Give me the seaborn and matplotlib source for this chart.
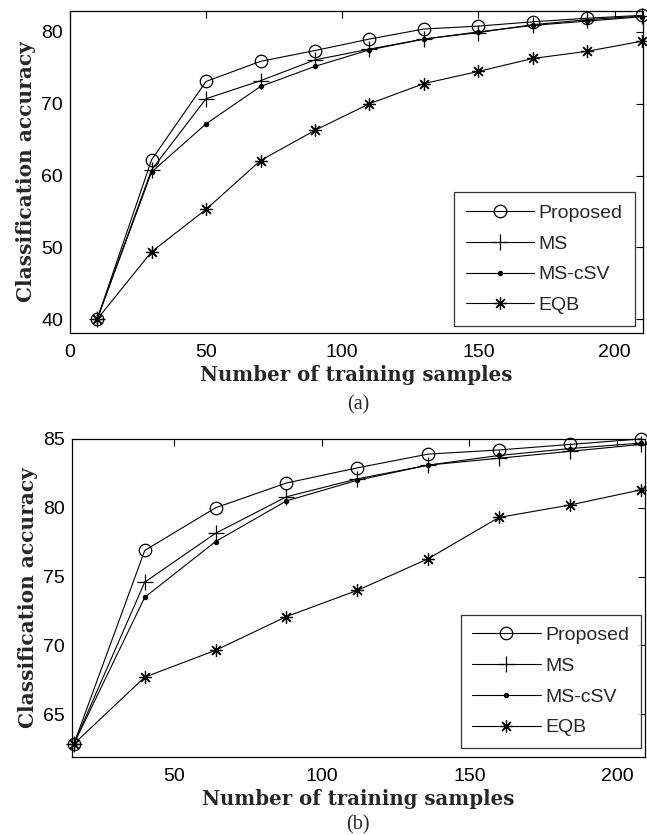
import matplotlib
matplotlib.use("Agg")
import matplotlib.pyplot as plt
import seaborn as sns
import pandas as pd

# ---- data (a) ----
x_a = [10, 30, 50, 70, 90, 110, 130, 150, 170, 190, 210]
proposed_a = [40.0, 62.2, 73.1, 75.9, 77.4, 79.0, 80.4, 80.8, 81.4, 81.9, 82.3]
ms_a = [40.0, 60.8, 70.7, 73.2, 76.1, 77.6, 79.0, 79.9, 81.0, 81.7, 82.2]
mscsv_a = [40.0, 60.5, 67.2, 72.4, 75.2, 77.5, 79.0, 80.0, 80.9, 81.5, 82.1]
eqb_a = [40.0, 49.4, 55.3, 62.1, 66.3, 70.0, 72.8, 74.5, 76.3, 77.3, 78.7]

# ---- data (b) ----
x_b = [16, 40, 64, 88, 112, 136, 160, 184, 208]
proposed_b = [62.85, 76.9, 80.0, 81.8, 82.9, 83.9, 84.2, 84.6, 85.0]
ms_b = [62.85, 74.6, 78.15, 80.8, 82.1, 83.1, 83.6, 84.1, 84.6]
mscsv_b = [62.85, 73.5, 77.55, 80.5, 82.0, 83.1, 83.8, 84.3, 84.7]
eqb_b = [62.85, 67.7, 69.65, 72.1, 74.0, 76.3, 79.3, 80.2, 81.3]

methods = ["Proposed", "MS", "MS-cSV", "EQB"]
xticks_a = [0, 50, 100, 150, 200]
yticks_a = [40, 50, 60, 70, 80]
xticks_b = [50, 100, 150, 200]
yticks_b = [65, 70, 75, 80, 85]

sns.set_theme(style="white")
plt.rcParams["font.family"] = ["Liberation Sans", "DejaVu Sans"]

def make_df(x, series):
    rows = []
    for m, vals in zip(methods, series):
        for xi, yi in zip(x, vals):
            rows.append({"x": xi, "acc": yi, "method": m})
    return pd.DataFrame(rows)

markers = {"Proposed": "o", "MS": "+", "MS-cSV": ".", "EQB": (8, 2, 0)}
msizes = {"Proposed": 9, "MS": 11, "MS-cSV": 6, "EQB": 9}

fig = plt.figure(figsize=(6.47, 8.35), dpi=100)
ax_a = fig.add_axes([0.108, 0.6012, 0.886, 0.3856])
ax_b = fig.add_axes([0.111, 0.0934, 0.886, 0.3809])

def draw(ax, df, xlim, ylim, xt, yt, legend_bbox):
    for m in methods:
        sub = df[df["method"] == m]
        sns.lineplot(data=sub, x="x", y="acc", ax=ax, color="black", lw=0.8,
                     marker=markers[m], markersize=msizes[m],
                     markerfacecolor="none" if m == "Proposed" else "black",
                     markeredgecolor="black", markeredgewidth=0.9,
                     label=m, clip_on=False)
    ax.set_xlim(*xlim)
    ax.set_ylim(*ylim)
    ax.set_xticks(xt)
    ax.set_yticks(yt)
    ax.tick_params(direction="in", top=True, right=True, length=5,
                   width=0.8, colors="black", labelsize=14)
    ax.tick_params(axis="x", pad=8)
    ax.tick_params(axis="y", pad=5)
    for s in ax.spines.values():
        s.set_color("black")
        s.set_linewidth(0.9)
    ax.set_xlabel("Number of training samples", family="DejaVu Serif",
                  fontweight="bold", fontsize=14.2, labelpad=3)
    ax.set_ylabel("Classification accuracy", family="DejaVu Serif",
                  fontweight="bold", fontsize=14.5, labelpad=4)
    leg = ax.legend(loc="lower right", bbox_to_anchor=legend_bbox,
                    fontsize=14, frameon=True, fancybox=False,
                    edgecolor="black", handlelength=3.5, borderpad=0.6,
                    labelspacing=0.68, handletextpad=0.25, borderaxespad=0)
    leg.get_frame().set_linewidth(0.9)

df_a = make_df(x_a, [proposed_a, ms_a, mscsv_a, eqb_a])
df_b = make_df(x_b, [proposed_b, ms_b, mscsv_b, eqb_b])

draw(ax_a, df_a, (0, 210.5), (38.1, 82.9), xticks_a, yticks_a, (0.985, 0.022))
draw(ax_b, df_b, (15.3, 209.5), (61.9, 85), xticks_b, yticks_b, (0.993, 0.028))

fig.text(0.553, 1 - 405 / 835, "(a)", ha="center", va="center",
         family="Liberation Serif", fontsize=14.5)
fig.text(0.553, 1 - 825 / 835, "(b)", ha="center", va="center",
         family="Liberation Serif", fontsize=14.5)

fig.savefig("out.png", dpi=100, facecolor="white")
